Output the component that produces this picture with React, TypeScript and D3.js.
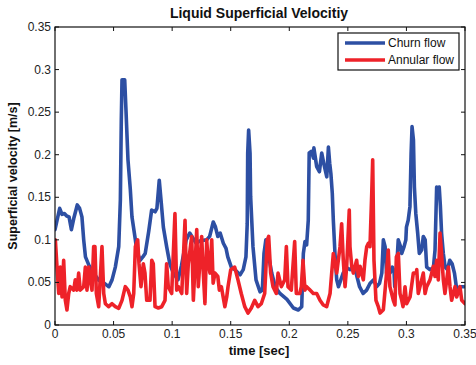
import React from "react";
import * as d3 from "d3";

const churnT = [0,0.004,0.006,0.008,0.010,0.012,0.014,0.016,0.019,0.021,0.023,0.0245,0.026,0.029,0.033,0.037,0.043,0.046,0.0487,0.0515,0.0544,0.0558,0.0566,0.0572,0.0595,0.0606,0.0623,0.0643,0.0657,0.0686,0.0697,0.0726,0.075,0.077,0.080,0.0825,0.0854,0.087,0.089,0.0905,0.0925,0.0953,0.098,0.101,0.105,0.108,0.112,0.115,0.1205,0.124,0.1295,0.132,0.1351,0.137,0.139,0.141,0.1437,0.146,0.1475,0.1505,0.1536,0.158,0.1607,0.163,0.1641,0.1645,0.1653,0.1665,0.167,0.169,0.1716,0.175,0.177,0.1784,0.180,0.182,0.185,0.188,0.192,0.198,0.2035,0.2077,0.2106,0.212,0.2134,0.2148,0.2162,0.217,0.219,0.2206,0.221,0.2234,0.2257,0.2277,0.2297,0.232,0.2334,0.2345,0.2355,0.2367,0.2376,0.239,0.2405,0.242,0.244,0.246,0.249,0.252,0.2547,0.257,0.260,0.263,0.266,0.269,0.272,0.2746,0.277,0.279,0.2803,0.2818,0.283,0.286,0.288,0.2895,0.290,0.2917,0.293,0.295,0.296,0.298,0.2995,0.300,0.3015,0.303,0.304,0.3048,0.306,0.3068,0.308,0.3096,0.311,0.313,0.3144,0.316,0.3173,0.320,0.323,0.3244,0.3258,0.327,0.328,0.329,0.330,0.3315,0.333,0.335,0.337,0.339,0.341,0.343,0.3458,0.349];
const churnV = [0.112,0.137,0.130,0.131,0.128,0.127,0.112,0.125,0.141,0.137,0.127,0.100,0.080,0.070,0.061,0.053,0.048,0.045,0.053,0.068,0.092,0.147,0.241,0.288,0.288,0.252,0.194,0.159,0.127,0.100,0.088,0.076,0.080,0.084,0.110,0.135,0.133,0.137,0.170,0.147,0.115,0.092,0.072,0.061,0.053,0.070,0.100,0.108,0.096,0.099,0.100,0.104,0.121,0.115,0.104,0.108,0.096,0.090,0.080,0.068,0.065,0.059,0.065,0.080,0.119,0.202,0.229,0.202,0.151,0.092,0.053,0.039,0.041,0.084,0.100,0.084,0.061,0.045,0.037,0.030,0.020,0.0176,0.0215,0.084,0.098,0.094,0.123,0.202,0.204,0.196,0.208,0.186,0.180,0.202,0.188,0.174,0.209,0.190,0.178,0.155,0.123,0.084,0.053,0.045,0.053,0.061,0.067,0.065,0.068,0.061,0.045,0.037,0.041,0.049,0.053,0.045,0.049,0.061,0.100,0.092,0.061,0.061,0.068,0.061,0.045,0.068,0.100,0.092,0.084,0.092,0.100,0.115,0.123,0.139,0.202,0.233,0.217,0.162,0.131,0.108,0.084,0.088,0.104,0.100,0.068,0.065,0.067,0.088,0.162,0.158,0.162,0.139,0.108,0.084,0.068,0.065,0.076,0.072,0.061,0.041,0.045,0.045];

const annularT = [0.0003,0.0017,0.0032,0.0045,0.006,0.0074,0.0088,0.0102,0.0117,0.013,0.016,0.0173,0.0188,0.0202,0.0216,0.0245,0.0259,0.0273,0.0288,0.0301,0.0316,0.033,0.0341,0.0353,0.0373,0.0401,0.0416,0.043,0.0458,0.0487,0.0515,0.0544,0.0572,0.060,0.0623,0.0643,0.0657,0.0672,0.0686,0.0706,0.0717,0.0734,0.0754,0.0768,0.0783,0.0811,0.0826,0.0839,0.0854,0.0882,0.0911,0.0939,0.0953,0.0967,0.0996,0.1024,0.1039,0.1053,0.1082,0.111,0.1124,0.1138,0.1167,0.1181,0.121,0.1223,0.1252,0.1266,0.128,0.1295,0.1309,0.1323,0.1338,0.135,0.1366,0.139,0.1403,0.142,0.145,0.1466,0.1477,0.150,0.1534,0.1562,0.159,0.162,0.1648,0.1676,0.1705,0.1733,0.1761,0.179,0.1812,0.1824,0.1841,0.1861,0.1889,0.1904,0.1932,0.1961,0.1975,0.1989,0.2017,0.2046,0.206,0.2089,0.2103,0.2117,0.2134,0.2148,0.2177,0.2205,0.2234,0.2262,0.229,0.2319,0.2348,0.2362,0.2376,0.2405,0.2433,0.2447,0.2461,0.2476,0.249,0.2512,0.2518,0.2533,0.2547,0.2575,0.259,0.2604,0.2632,0.2646,0.2661,0.2675,0.2689,0.2704,0.2712,0.2723,0.274,0.276,0.2775,0.2803,0.2828,0.2845,0.2859,0.2888,0.2902,0.2914,0.2931,0.2945,0.296,0.2971,0.2988,0.3002,0.3031,0.3059,0.3085,0.3088,0.3101,0.313,0.3144,0.3159,0.3173,0.3201,0.3216,0.323,0.3244,0.3258,0.3272,0.3287,0.33,0.3315,0.3329,0.3358,0.3372,0.3386,0.34,0.3415,0.3429,0.3457,0.3472,0.35];
const annularV = [0.100,0.068,0.037,0.068,0.033,0.076,0.029,0.0176,0.037,0.045,0.041,0.053,0.041,0.061,0.041,0.045,0.068,0.041,0.068,0.053,0.041,0.092,0.092,0.037,0.0215,0.092,0.037,0.025,0.0215,0.025,0.0215,0.0196,0.029,0.045,0.041,0.033,0.0215,0.037,0.092,0.100,0.072,0.045,0.072,0.061,0.029,0.029,0.076,0.072,0.0215,0.020,0.0215,0.029,0.072,0.045,0.037,0.131,0.041,0.045,0.037,0.123,0.037,0.072,0.104,0.029,0.112,0.045,0.104,0.061,0.025,0.100,0.072,0.061,0.100,0.049,0.061,0.057,0.041,0.045,0.0215,0.033,0.045,0.065,0.068,0.053,0.037,0.0215,0.014,0.020,0.029,0.0215,0.025,0.037,0.100,0.104,0.061,0.045,0.037,0.061,0.045,0.053,0.092,0.045,0.041,0.098,0.037,0.037,0.045,0.076,0.041,0.045,0.041,0.037,0.037,0.029,0.0235,0.0215,0.037,0.061,0.084,0.061,0.092,0.119,0.076,0.045,0.069,0.135,0.092,0.069,0.061,0.076,0.057,0.069,0.053,0.076,0.092,0.096,0.092,0.155,0.194,0.076,0.029,0.0215,0.014,0.018,0.057,0.088,0.045,0.029,0.0235,0.080,0.084,0.037,0.029,0.0215,0.045,0.025,0.033,0.061,0.061,0.065,0.037,0.053,0.061,0.037,0.045,0.053,0.061,0.069,0.057,0.076,0.053,0.108,0.084,0.053,0.037,0.068,0.045,0.029,0.037,0.045,0.033,0.045,0.029,0.025];

const xTicks = [0, 0.05, 0.1, 0.15, 0.2, 0.25, 0.3, 0.35];
const yTicks = [0, 0.05, 0.1, 0.15, 0.2, 0.25, 0.3, 0.35];
const seriesNames = ["Churn flow", "Annular flow"];
const seriesColors = ["#2d4fa3", "#ee2229"];

const W = 476, H = 365;
const L = 55, R = 465, T = 27, B = 325;

export default function App() {
  const x = d3.scaleLinear().domain([0, 0.35]).range([L, R]);
  const y = d3.scaleLinear().domain([0, 0.35]).range([B, T]);
  const line = d3.line<[number, number]>().x(d => x(d[0])).y(d => y(d[1]));
  const churn = churnT.map((t, i) => [t, churnV[i]] as [number, number]);
  const annular = annularT.map((t, i) => [t, annularV[i]] as [number, number]);
  const font = "Liberation Sans, Arial, sans-serif";
  const tl = 4;
  return (
    <svg width={W} height={H} style={{ position: "fixed", left: 0, top: 0, background: "#fff" }} fontFamily={font}>
      <rect x={0} y={0} width={W} height={H} fill="#fff" />
      <text x={259} y={18} textAnchor="middle" fontSize={14} fontWeight="bold" fill="#111">Liquid Superficial Velocitiy</text>
      <defs>
        <clipPath id="pc"><rect x={L} y={T} width={R - L} height={B - T} /></clipPath>
      </defs>
      <g clipPath="url(#pc)" fill="none" strokeWidth={3.6} strokeLinejoin="round" strokeLinecap="round">
        <path d={line(churn) || ""} stroke={seriesColors[0]} />
        <path d={line(annular) || ""} stroke={seriesColors[1]} />
      </g>
      <rect x={L} y={T} width={R - L} height={B - T} fill="none" stroke="#111" strokeWidth={1.2} />
      {xTicks.map(t => (
        <g key={"x" + t}>
          <line x1={x(t)} x2={x(t)} y1={B} y2={B - tl} stroke="#111" />
          <line x1={x(t)} x2={x(t)} y1={T} y2={T + tl} stroke="#111" />
          <text x={x(t)} y={338} textAnchor="middle" fontSize={12} fill="#222">{String(t)}</text>
        </g>
      ))}
      {yTicks.map(t => (
        <g key={"y" + t}>
          <line x1={L} x2={L + tl} y1={y(t)} y2={y(t)} stroke="#111" />
          <line x1={R} x2={R - tl} y1={y(t)} y2={y(t)} stroke="#111" />
          <text x={51} y={y(t) + 4} textAnchor="end" fontSize={12} fill="#222">{String(t)}</text>
        </g>
      ))}
      <text x={259} y={355} textAnchor="middle" fontSize={13} fontWeight="bold" fill="#111">time [sec]</text>
      <text transform={`translate(17,${(T + B) / 2}) rotate(-90)`} textAnchor="middle" fontSize={12.5} fontWeight="bold" fill="#111">Superficial velocity [m/s]</text>
      <g>
        <rect x={338} y={33} width={121} height={37} fill="#fff" stroke="#111" strokeWidth={1.2} />
        {seriesNames.map((n, i) => (
          <g key={n}>
            <line x1={345} x2={385} y1={43 + i * 17} y2={43 + i * 17} stroke={seriesColors[i]} strokeWidth={3.6} />
            <text x={388} y={47 + i * 17} fontSize={12} fill="#111">{n}</text>
          </g>
        ))}
      </g>
    </svg>
  );
}
